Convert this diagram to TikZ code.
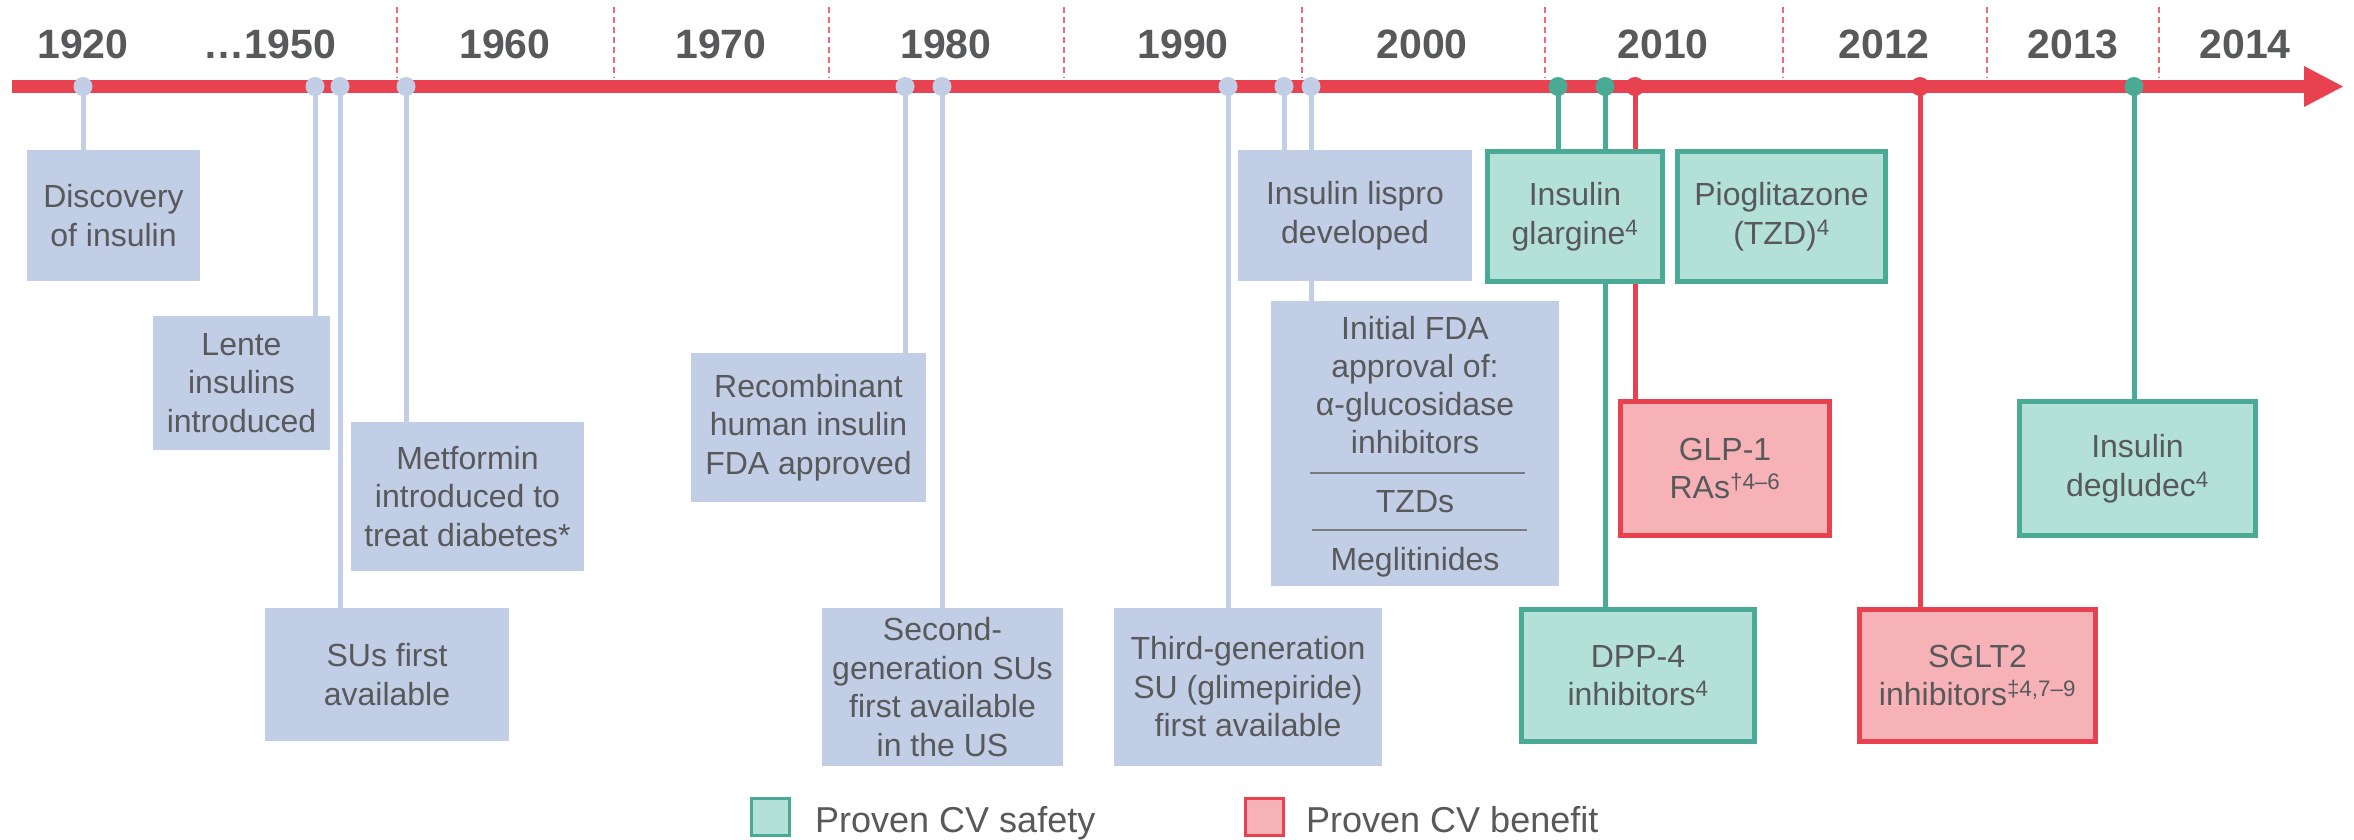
\documentclass[tikz,border=0pt]{standalone}
\usepackage{fontspec}
\setmainfont{Liberation Sans}
\usetikzlibrary{backgrounds}

\definecolor{barred}{HTML}{E8414F}
\definecolor{dashred}{HTML}{EE6A75}
\definecolor{bluefill}{HTML}{C2CDE6}
\definecolor{greenline}{HTML}{4BAA95}
\definecolor{greenfill}{HTML}{B3E1D7}
\definecolor{redfill}{HTML}{F6B2B7}
\definecolor{txtgray}{HTML}{58595B}
\definecolor{divgray}{HTML}{7A7C80}

\newcommand\bxfont{\fontsize{32}{38.5}\selectfont}

\tikzset{
  x=1pt, y=-1pt,
  boxbase/.style={inner sep=0pt, align=center, text=txtgray, font=\bxfont},
  bluebox/.style={boxbase, fill=bluefill},
  greenbox/.style={boxbase, fill=greenfill, draw=greenline, line width=5pt},
  redbox/.style={boxbase, fill=redfill, draw=barred, line width=5pt},
  linetext/.style={inner sep=0pt, text=txtgray, font=\bxfont, anchor=base},
  yearlabel/.style={inner sep=0pt, anchor=base, text=txtgray,
    font=\bfseries\fontsize{41}{41}\selectfont},
  legendtext/.style={inner sep=0pt, anchor=base west, text=txtgray,
    font=\fontsize{36}{36}\selectfont},
  dotshape/.style={circle, inner sep=0pt, minimum size=19pt},
  bluedot/.style={dotshape, fill=bluefill},
  greendot/.style={dotshape, fill=greenline},
  reddot/.style={dotshape, fill=barred},
  blueline/.style={draw=bluefill, line width=5pt},
  greenconn/.style={draw=greenline, line width=5pt},
  redconn/.style={draw=barred, line width=5pt},
  yeardivider/.style={draw=dashred, line width=2pt, dash pattern=on 6pt off 4pt},
  divider/.style={draw=divgray, line width=1.5pt},
}

\begin{document}
\begin{tikzpicture}
\useasboundingbox (0,0) rectangle (2354,839);

% year separators
\foreach \xx in {397,614,829,1064,1302,1545,1783,1987,2159}
  \draw[yeardivider] (\xx,7) -- (\xx,78);

% year labels
\node[yearlabel] (y1920) at (83,58) {1920};
\node[yearlabel] (y1950) at (270,58) {…1950};
\node[yearlabel] (y1960) at (505,58) {1960};
\node[yearlabel] (y1970) at (721,58) {1970};
\node[yearlabel] (y1980) at (946,58) {1980};
\node[yearlabel] (y1990) at (1183,58) {1990};
\node[yearlabel] (y2000) at (1422,58) {2000};
\node[yearlabel] (y2010) at (1663,58) {2010};
\node[yearlabel] (y2012) at (1884,58) {2012};
\node[yearlabel] (y2013) at (2073,58) {2013};
\node[yearlabel] (y2014) at (2245,58) {2014};

% time axis with arrow head
\coordinate (axisstart) at (12,86.5);
\coordinate (axisend) at (2306,86.5);
\draw[barred, line width=13pt] (axisstart) -- (axisend);
\fill[barred] (2304,66) -- (2343,86.5) -- (2304,107) -- cycle;

% event markers on the axis
\node[bluedot] (d1) at (83,86.5) {};
\node[bluedot] (d2) at (315,86.5) {};
\node[bluedot] (d3) at (340,86.5) {};
\node[bluedot] (d4) at (406,86.5) {};
\node[bluedot] (d5) at (905,86.5) {};
\node[bluedot] (d6) at (942,86.5) {};
\node[bluedot] (d7) at (1228,86.5) {};
\node[bluedot] (d8) at (1284,86.5) {};
\node[bluedot] (d9) at (1311,86.5) {};
\node[greendot] (g1) at (1558,86.5) {};
\node[greendot] (g2) at (1605,86.5) {};
\node[reddot] (r1) at (1635,86.5) {};
\node[reddot] (r2) at (1920,86.5) {};
\node[greendot] (g3) at (2134,86.5) {};

% event boxes
\node[bluebox, minimum width=173pt, minimum height=131pt] (disc) at (113.5,215.5) {Discovery\\of insulin};
\node[bluebox, minimum width=177pt, minimum height=134pt] (lente) at (241.5,383) {Lente\\insulins\\introduced};
\node[bluebox, minimum width=244pt, minimum height=133pt] (sus) at (387,674.5) {SUs first\\available};
\node[bluebox, minimum width=233pt, minimum height=149pt] (metf) at (467.5,496.5) {Metformin\\introduced to\\treat diabetes*};
\node[bluebox, minimum width=235pt, minimum height=149pt] (recomb) at (808.5,427.5) {Recombinant\\human insulin\\FDA approved};
\node[bluebox, minimum width=241pt, minimum height=158pt] (second) at (942.5,687) {Second-\\generation SUs\\first available\\in the US};
\node[bluebox, minimum width=268pt, minimum height=158pt] (third) at (1248,687) {Third-generation\\SU (glimepiride)\\first available};
\node[bluebox, minimum width=234pt, minimum height=131pt] (lispro) at (1355,215.5) {Insulin lispro\\developed};
\node[bluebox, minimum width=288pt, minimum height=285pt] (fda) at (1415,443.5) {};
\node[linetext] (fda1) at (1415,339) {Initial FDA};
\node[linetext] (fda2) at (1415,377) {approval of:};
\node[linetext] (fda3) at (1415,415) {α-glucosidase};
\node[linetext] (fda4) at (1415,453) {inhibitors};
\node[linetext] (fda5) at (1415,512) {TZDs};
\node[linetext] (fda6) at (1415,570) {Meglitinides};
\draw[divider] (1310,473) -- (1525,473);
\draw[divider] (1312,530) -- (1527,530);

\node[greenbox, minimum width=175pt, minimum height=130pt] (glargine) at (1575,216.5) {Insulin\\glargine\textsuperscript{4}};
\node[greenbox, minimum width=208pt, minimum height=130pt] (pio) at (1781.5,216.5) {Pioglitazone\\(TZD)\textsuperscript{4}};
\node[redbox, minimum width=209pt, minimum height=134pt] (glp) at (1725,468.5) {GLP-1\\RAs\textsuperscript{†4–6}};
\node[greenbox, minimum width=233pt, minimum height=132pt] (dpp) at (1638,675.5) {DPP-4\\inhibitors\textsuperscript{4}};
\node[redbox, minimum width=236pt, minimum height=132pt] (sglt) at (1977.5,675.5) {SGLT2\\inhibitors\textsuperscript{‡4,7–9}};
\node[greenbox, minimum width=236pt, minimum height=134pt] (deg) at (2137.5,468.5) {Insulin\\degludec\textsuperscript{4}};

% legend
\node[greenbox, line width=3pt, minimum width=38pt, minimum height=37pt] (keysafe) at (770.5,817) {};
\node[legendtext] (keysafetxt) at (815,832) {Proven CV safety};
\node[redbox, line width=3pt, minimum width=38pt, minimum height=37pt] (keybenefit) at (1264.5,817) {};
\node[legendtext] (keybenefittxt) at (1306,832) {Proven CV benefit};

% connectors run behind the axis and the boxes
\begin{scope}[on background layer]
  \fill[white] (0,0) rectangle (2354,839);
  \draw[blueline] (d1.center) -- (d1 |- disc.north);
  \draw[blueline] (d2.center) -- (d2 |- lente.north);
  \draw[blueline] (d3.center) -- (d3 |- sus.north);
  \draw[blueline] (d4.center) -- (d4 |- metf.north);
  \draw[blueline] (d5.center) -- (d5 |- recomb.north);
  \draw[blueline] (d6.center) -- (d6 |- second.north);
  \draw[blueline] (d7.center) -- (d7 |- third.north);
  \draw[blueline] (d8.center) -- (d8 |- lispro.north);
  \draw[blueline] (d9.center) -- (d9 |- fda.north);
  \draw[greenconn] (g1.center) -- (g1 |- glargine.north);
  \draw[greenconn] (g2.center) -- (g2 |- dpp.north);
  \draw[redconn] (r1.center) -- (r1 |- glp.north);
  \draw[redconn] (r2.center) -- (r2 |- sglt.north);
  \draw[greenconn] (g3.center) -- (g3 |- deg.north);
\end{scope}
\end{tikzpicture}
\end{document}
